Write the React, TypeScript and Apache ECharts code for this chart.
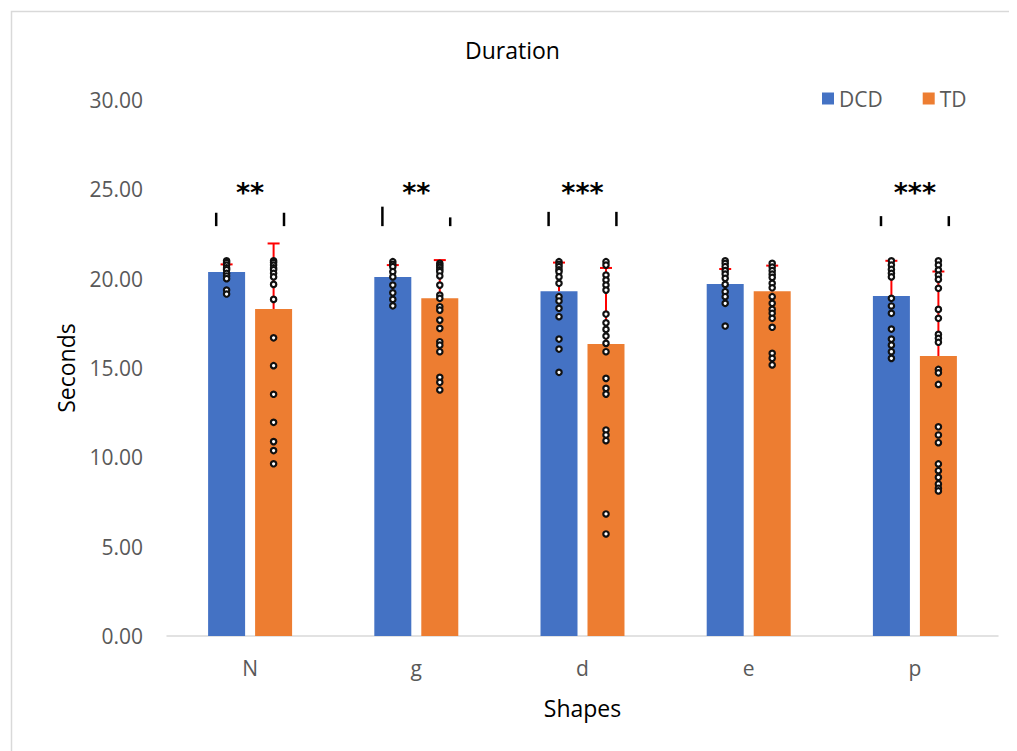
import React, { useEffect, useRef } from "react";
import * as echarts from "echarts";

const categories = ["N", "g", "d", "e", "p"];
const seriesNames = ["DCD", "TD"];
const dcdMeans = [20.37, 20.09, 19.3, 19.7, 19.03];
const tdMeans = [18.3, 18.9, 16.34, 19.3, 15.67];
const dcdUpper = [20.8, 20.76, 20.9, 20.54, 21.0];
const tdUpper = [21.97, 21.04, 20.6, 20.73, 20.4];

const dcdPoints = [
  [21.0, 20.9, 20.76, 20.6, 20.5, 20.3, 20.15, 20.0, 19.36, 19.14],
  [20.95, 20.8, 20.67, 20.39, 20.1, 19.64, 19.21, 18.84, 18.48],
  [20.95, 20.8, 20.67, 20.5, 20.39, 20.1, 19.74, 18.99, 18.75, 18.34, 17.87, 16.62, 16.06, 14.76],
  [21.0, 20.85, 20.67, 20.45, 20.26, 20.02, 19.68, 19.27, 18.99, 18.62, 17.35],
  [21.0, 20.76, 20.52, 20.3, 20.1, 18.9, 18.47, 18.06, 17.18, 16.62, 16.28, 15.91, 15.54],
];
const tdPoints = [
  [21.0, 20.9, 20.76, 20.6, 20.5, 20.3, 20.1, 19.68, 18.84, 16.69, 15.13, 13.53, 11.96, 10.88, 10.38, 9.64],
  [20.86, 20.75, 20.63, 20.5, 20.39, 20.15, 19.64, 19.08, 18.9, 18.43, 18.24, 17.68, 17.22, 16.47, 16.28, 15.91, 14.48, 14.2, 13.77],
  [20.95, 20.76, 20.2, 19.92, 19.64, 19.36, 18.02, 17.53, 17.16, 16.79, 16.38, 15.91, 14.42, 13.86, 13.54, 11.53, 11.25, 10.93, 6.83, 5.71],
  [20.86, 20.65, 20.45, 20.25, 20.07, 19.74, 19.49, 18.99, 18.62, 18.28, 18.06, 17.78, 17.28, 15.82, 15.54, 15.17],
  [21.0, 20.76, 20.48, 20.2, 19.96, 19.46, 18.28, 17.78, 16.88, 16.66, 16.44, 14.92, 14.73, 14.08, 11.71, 11.25, 10.82, 9.63, 9.25, 8.88, 8.51, 8.27, 8.12],
];

const sigCategories = [0, 1, 2, 4];
const sigLabels = ["**", "**", "***", "***"];
const sigTickTopLeft = [23.69, 24.03, 23.74, 23.5];
const sigTickTopRight = [23.69, 23.43, 23.74, 23.5];
const sigTickBottom = [22.94, 22.94, 22.94, 22.94];
const sigLabelValue = [24.85, 24.85, 24.85, 24.85];

const yMin = 0;
const yMax = 30;
const yInterval = 5;

const BLUE = "#4472C4";
const ORANGE = "#ED7D31";
const FONT = "'Open Sans', sans-serif";
const BAR_OFFSET = 0.1414; // fraction of band width from center to bar center
const TICK_OFFSET = 0.204;

export default function App() {
  const ref = useRef<HTMLDivElement>(null);

  useEffect(() => {
    if (!ref.current) return;
    const chart = echarts.init(ref.current, undefined, { renderer: "svg" });

    const dotData: number[][] = [];
    dcdPoints.forEach((arr, c) => arr.forEach((v) => dotData.push([c, v, -1])));
    tdPoints.forEach((arr, c) => arr.forEach((v) => dotData.push([c, v, 1])));

    const errData: number[][] = [];
    dcdMeans.forEach((m, c) => errData.push([c, m, dcdUpper[c], -1]));
    tdMeans.forEach((m, c) => errData.push([c, m, tdUpper[c], 1]));

    const sigData = sigCategories.map((c, i) => [
      c,
      sigTickTopLeft[i],
      sigTickTopRight[i],
      sigTickBottom[i],
      sigLabelValue[i],
      i,
    ]);

    const option: any = {
      animation: false,
      title: {
        text: "Duration",
        left: "center",
        top: 25,
        textStyle: { fontFamily: FONT, fontSize: 23, fontWeight: "normal", color: "#000" },
      },
      graphic: [
        {
          type: "rect",
          shape: { x: 3.5, y: 3.5, width: 1200, height: 1000 },
          style: { fill: "none", stroke: "#d9d9d9", lineWidth: 1.5 },
          silent: true,
        },
      ],
      legend: {
        data: seriesNames,
        left: 809,
        top: 75,
        itemWidth: 12,
        itemHeight: 12,
        itemGap: 40,
        icon: "rect",
        textStyle: { fontFamily: FONT, fontSize: 21, color: "#595959" },
      },
      grid: { left: 159, right: 19, top: 92, bottom: 115, containLabel: false },
      xAxis: {
        type: "category",
        data: categories,
        name: "Shapes",
        nameLocation: "middle",
        nameGap: 60,
        nameTextStyle: { fontFamily: FONT, fontSize: 23, color: "#000" },
        axisLine: { lineStyle: { color: "#d9d9d9", width: 1.5 } },
        axisTick: { show: false },
        axisLabel: { fontFamily: FONT, fontSize: 21, color: "#595959", margin: 21 },
      },
      yAxis: {
        type: "value",
        min: yMin,
        max: yMax,
        interval: yInterval,
        name: "Seconds",
        nameLocation: "middle",
        nameGap: 90,
        nameRotate: 90,
        nameTextStyle: { fontFamily: FONT, fontSize: 23, color: "#000" },
        axisLine: { show: false },
        axisTick: { show: false },
        splitLine: { show: false },
        axisLabel: {
          fontFamily: FONT,
          fontSize: 21,
          color: "#595959",
          margin: 24,
          formatter: (v: number) => v.toFixed(2),
        },
      },
      series: [
        {
          name: "DCD",
          type: "bar",
          data: dcdMeans,
          barWidth: 37,
          barGap: "27%",
          itemStyle: { color: BLUE },
        },
        {
          name: "TD",
          type: "bar",
          data: tdMeans,
          barWidth: 37,
          barGap: "27%",
          itemStyle: { color: ORANGE },
        },
        {
          name: "errors",
          type: "custom",
          data: errData,
          z: 5,
          renderItem: (params: any, api: any) => {
            const c = api.value(0);
            const side = api.value(3);
            const bw = api.size([1, 0])[0];
            const off = side * bw * BAR_OFFSET;
            const p0 = api.coord([c, api.value(1)]);
            const p1 = api.coord([c, api.value(2)]);
            const x = p0[0] + off;
            const st = { stroke: "#FF0000", lineWidth: 2 };
            return {
              type: "group",
              children: [
                { type: "line", shape: { x1: x, y1: p0[1], x2: x, y2: p1[1] }, style: st },
                { type: "line", shape: { x1: x - 6, y1: p1[1], x2: x + 6, y2: p1[1] }, style: st },
              ],
            };
          },
        },
        {
          name: "points",
          type: "custom",
          data: dotData,
          z: 6,
          renderItem: (params: any, api: any) => {
            const c = api.value(0);
            const side = api.value(2);
            const bw = api.size([1, 0])[0];
            const p = api.coord([c, api.value(1)]);
            return {
              type: "circle",
              shape: { cx: p[0] + side * bw * BAR_OFFSET, cy: p[1], r: 2.7 },
              style: { fill: "#fff", stroke: "#111", lineWidth: 2.2 },
            };
          },
        },
        {
          name: "significance",
          type: "custom",
          data: sigData,
          z: 6,
          renderItem: (params: any, api: any) => {
            const c = api.value(0);
            const bw = api.size([1, 0])[0];
            const pl = api.coord([c, api.value(1)]);
            const pr = api.coord([c, api.value(2)]);
            const pb = api.coord([c, api.value(3)]);
            const pt = api.coord([c, api.value(4)]);
            const label = sigLabels[api.value(5)];
            const xl = pl[0] - bw * TICK_OFFSET;
            const xr = pl[0] + bw * TICK_OFFSET;
            const st = { stroke: "#000", lineWidth: 2.5 };
            return {
              type: "group",
              children: [
                { type: "line", shape: { x1: xl, y1: pl[1], x2: xl, y2: pb[1] }, style: st },
                { type: "line", shape: { x1: xr, y1: pr[1], x2: xr, y2: pb[1] }, style: st },
                {
                  type: "text",
                  style: {
                    text: label,
                    x: pt[0],
                    y: pt[1],
                    fill: "#000",
                    fontSize: 27,
                    fontWeight: "bold",
                    fontFamily: "'DejaVu Sans', sans-serif",
                    align: "center",
                    verticalAlign: "middle",
                  },
                },
              ],
            };
          },
        },
      ],
    };

    chart.setOption(option);
    return () => chart.dispose();
  }, []);

  return <div ref={ref} style={{ width: 1009, height: 743 }} />;
}
